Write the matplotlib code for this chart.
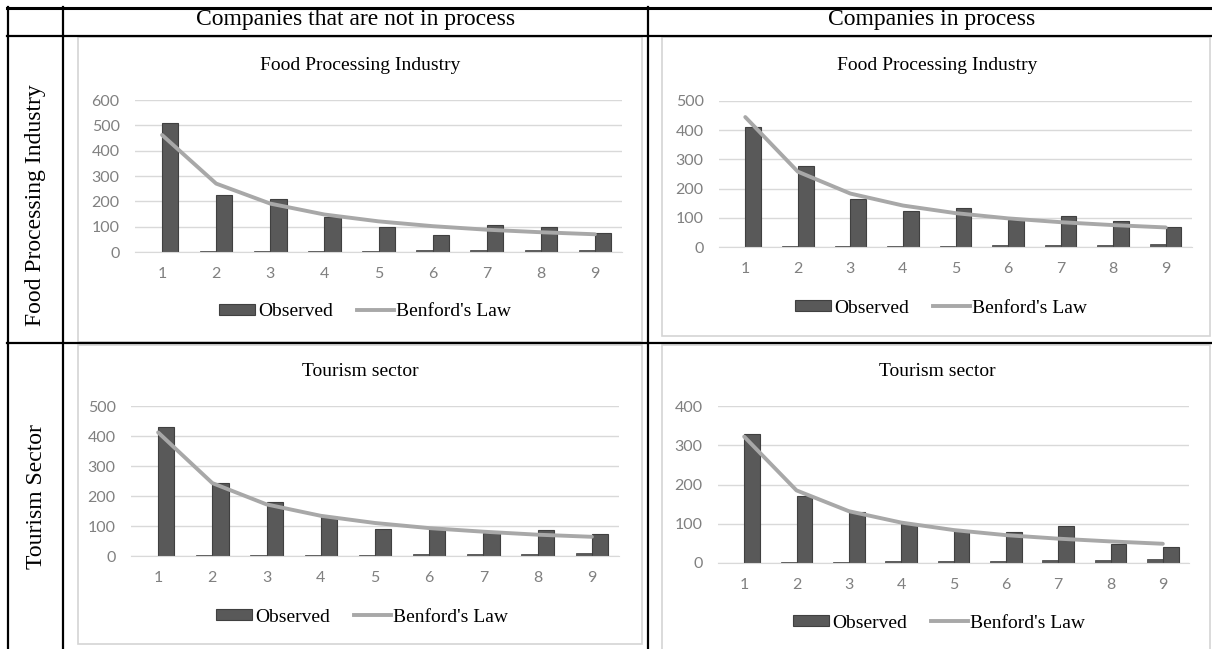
import numpy as np
import matplotlib.pyplot as plt
from matplotlib.patches import Rectangle, Patch
from matplotlib.lines import Line2D

# first digit counts
digits = [1, 2, 3, 4, 5, 6, 7, 8, 9]
# tiny stub bars left of each observed bar (digit column plotted as a series)
stub = [1, 2, 3, 4, 5, 6, 7, 8, 9]

food_not_obs = [510, 225, 208, 140, 100, 68, 107, 97, 75]
food_not_benf = [462, 270, 191, 148, 121, 102, 88, 78, 70]

food_in_obs = [410, 276, 163, 123, 135, 94, 105, 90, 70]
food_in_benf = [445, 258, 183, 142, 116, 98, 85, 75, 67]

tour_not_obs = [430, 244, 181, 129, 90, 93, 78, 86, 73]
tour_not_benf = [412, 243, 172, 134, 110, 93, 81, 71, 64]

tour_in_obs = [328, 171, 130, 100, 82, 78, 93, 49, 42]
tour_in_benf = [322, 185, 132, 103, 84, 71, 62, 55, 49]

col_titles = ['Companies that are not in process', 'Companies in process']
row_titles = ['Food Processing Industry', 'Tourism Sector']

W, H = 1212, 649
BAR = '#595959'
LINE = '#a8a8a8'
GRID = '#d9d9d9'
TICK = '#808080'
SERIF = 'Liberation Serif'
SANS = 'Lato'

fig = plt.figure(figsize=(W / 100, H / 100), dpi=100)


def fx(px):
    return px / W


def fy(py):
    return 1 - py / H


def hline(y, x0, x1, lw=1.6):
    fig.add_artist(Line2D([fx(x0), fx(x1)], [fy(y), fy(y)], color='black', lw=lw))


def vline(x, y0, y1, lw=1.6):
    fig.add_artist(Line2D([fx(x), fx(x)], [fy(y0), fy(y1)], color='black', lw=lw))


# table grid
hline(8, 7, W, lw=2.2)
hline(36, 7, W)
hline(343, 7, W)
vline(8, 7, H)
vline(63, 7, H)
vline(648, 7, H)

fig.text(fx(356), fy(19), col_titles[0], family=SERIF, fontsize=17, ha='center', va='center')
fig.text(fx(932), fy(19), col_titles[1], family=SERIF, fontsize=17, ha='center', va='center')
fig.text(fx(36), fy(205), row_titles[0], family=SERIF, fontsize=17, ha='center', va='center', rotation=90)
fig.text(fx(36), fy(497), row_titles[1], family=SERIF, fontsize=17, ha='center', va='center', rotation=90)


def panel(box, axbox, ymax, obs, benf, title, title_xy, leg_xy):
    x0, y0, x1, y1 = box
    fig.add_artist(Rectangle((fx(x0), fy(y1)), fx(x1) - fx(x0), fy(y0) - fy(y1),
                             transform=fig.transFigure, facecolor='white',
                             edgecolor='#d4d4d4', lw=1.2, zorder=0))
    ax0, ay0, ax1, ay1 = axbox
    ax = fig.add_axes((fx(ax0), fy(ay1), fx(ax1) - fx(ax0), fy(ay0) - fy(ay1)))
    x = np.array(digits)
    w = 0.3
    ax.bar(x - w / 2, stub, width=w, color=BAR, edgecolor='#3f3f3f', lw=0.5, zorder=2)
    ax.bar(x + w / 2, obs, width=w, color=BAR, edgecolor='#404040', lw=0.8, zorder=2)
    ax.plot(x, benf, color=LINE, lw=2.8, solid_capstyle='round', zorder=3)
    ax.set_xlim(0.5, 9.5)
    ax.set_ylim(0, ymax)
    ax.set_yticks(np.arange(0, ymax + 1, 100))
    ax.set_xticks(x)
    ax.yaxis.grid(True, color=GRID, lw=1.0, zorder=0)
    ax.set_axisbelow(True)
    for s in ['top', 'right', 'left']:
        ax.spines[s].set_visible(False)
    ax.spines['bottom'].set_color(GRID)
    ax.tick_params(length=0, colors=TICK, labelsize=11.5)
    ax.tick_params(axis='x', pad=11)
    ax.tick_params(axis='y', pad=11)
    for lab in ax.get_xticklabels() + ax.get_yticklabels():
        lab.set_family(SANS)
    ax.set_facecolor('none')
    fig.text(fx(title_xy[0]), fy(title_xy[1]), title, family=SERIF, fontsize=14,
             ha='center', va='center')
    handles = [Patch(facecolor=BAR, edgecolor='#404040', lw=0.8),
               Line2D([], [], color=LINE, lw=2.8)]
    ax.legend(handles, ['Observed', "Benford's Law"], loc='center', ncol=2,
              bbox_to_anchor=(fx(leg_xy[0]), fy(leg_xy[1])), bbox_transform=fig.transFigure,
              frameon=False, prop={'family': SERIF, 'size': 14}, handlelength=1.9,
              handleheight=0.55, handletextpad=0.15, columnspacing=1.2)
    return ax


panel((78, 37, 642, 342), (135, 100, 622, 252), 600, food_not_obs, food_not_benf,
      'Food Processing Industry', (360, 65), (365, 312))
panel((662, 37, 1210, 336), (719, 101, 1192, 247), 500, food_in_obs, food_in_benf,
      'Food Processing Industry', (937, 66), (941, 308))
panel((78, 345, 642, 644), (131, 406, 619, 556), 500, tour_not_obs, tour_not_benf,
      'Tourism sector', (360, 371), (362, 617))
panel((662, 345, 1210, 660), (718, 406, 1189, 563), 400, tour_in_obs, tour_in_benf,
      'Tourism sector', (937, 372), (939, 623))

fig.savefig('out.png', dpi=100)
